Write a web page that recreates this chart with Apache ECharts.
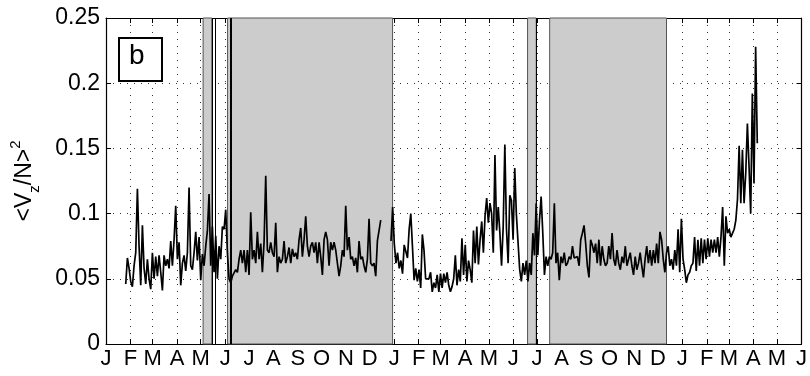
<!DOCTYPE html>
<html>
<head>
<meta charset="utf-8">
<script src="https://cdn.jsdelivr.net/npm/echarts@6/dist/echarts.min.js"></script>
<style>
  html, body { margin: 0; padding: 0; background: #fff; }
  #chart { width: 810px; height: 376px; }
</style>
</head>
<body>
<div id="chart"></div>
<script>
// Month initials used as x tick labels
const monthInitials = ['J', 'F', 'M', 'A', 'M', 'J', 'J', 'A', 'S', 'O', 'N', 'D'];
// y tick values
const yTickValues = [0, 0.05, 0.1, 0.15, 0.2, 0.25];

// Axis span
const axisStart = '2009-01-01';
const axisEnd = '2011-06-01';

// First record: evenly sampled between these dates
const seg1Start = '2009-01-26';
const seg1End = '2009-12-15';
const seg1Values = [
  0.046, 0.066, 0.058, 0.048, 0.044, 0.060, 0.070, 0.119, 0.075, 0.045,
  0.091, 0.058, 0.046, 0.065, 0.050, 0.042, 0.070, 0.050, 0.067, 0.052,
  0.068, 0.055, 0.041, 0.068, 0.060, 0.065, 0.058, 0.079, 0.060, 0.080,
  0.106, 0.065, 0.078, 0.045, 0.062, 0.068, 0.056, 0.070, 0.120, 0.060,
  0.057, 0.070, 0.086, 0.064, 0.082, 0.049, 0.069, 0.060, 0.075, 0.087,
  0.115, 0.060, 0.090, 0.055, 0.083, 0.050, 0.075, 0.065, 0.090, 0.088,
  0.103, 0.070, 0.050, 0.047,
  0.052, 0.053, 0.057, 0.055, 0.065, 0.072, 0.062, 0.072, 0.055, 0.072,
  0.053, 0.101, 0.065, 0.072, 0.062, 0.086, 0.065, 0.077, 0.055, 0.078,
  0.129, 0.072, 0.070, 0.078, 0.070, 0.067, 0.093, 0.055, 0.067, 0.062,
  0.065, 0.079, 0.062, 0.067, 0.074, 0.062, 0.073, 0.067, 0.070, 0.065,
  0.080, 0.089, 0.067, 0.080, 0.098, 0.075, 0.067, 0.075, 0.078, 0.070,
  0.078, 0.062, 0.078, 0.067, 0.053, 0.080, 0.086, 0.080, 0.060, 0.078,
  0.072, 0.078, 0.072, 0.062, 0.052, 0.060, 0.072, 0.067, 0.106, 0.072,
  0.082, 0.065, 0.067, 0.060, 0.066, 0.055, 0.079, 0.065, 0.067, 0.060,
  0.055, 0.065, 0.096, 0.062, 0.060, 0.062, 0.052, 0.079, 0.080, 0.095
];

// Second record
const seg2Start = '2009-12-28';
const seg2End = '2011-04-06';
const seg2Values = [
  0.079, 0.105, 0.077, 0.062, 0.070, 0.058, 0.064, 0.054, 0.076, 0.077,
  0.066, 0.088, 0.100, 0.075, 0.049, 0.058, 0.048, 0.057, 0.043, 0.084,
  0.072, 0.050, 0.049, 0.050, 0.055, 0.040, 0.047, 0.043, 0.053, 0.040,
  0.054, 0.043, 0.054, 0.047, 0.055, 0.045, 0.040, 0.044, 0.050, 0.068,
  0.045, 0.057, 0.048, 0.081, 0.053, 0.076, 0.048, 0.064, 0.057, 0.047,
  0.087, 0.062, 0.090, 0.061, 0.080, 0.094, 0.070, 0.098, 0.112, 0.093,
  0.108, 0.100, 0.070, 0.145, 0.087, 0.105, 0.085, 0.060, 0.090, 0.153,
  0.088, 0.062, 0.114, 0.110, 0.080, 0.135, 0.099, 0.098, 0.057, 0.048,
  0.062, 0.053, 0.064, 0.048, 0.062, 0.053, 0.085, 0.068, 0.108, 0.068,
  0.095,
  0.113, 0.085, 0.053, 0.067, 0.060, 0.067, 0.065, 0.070, 0.108, 0.062,
  0.070, 0.049, 0.067, 0.062, 0.070, 0.060, 0.062, 0.067, 0.065, 0.075,
  0.066, 0.065, 0.067, 0.060, 0.080, 0.085, 0.091, 0.077, 0.060, 0.051,
  0.080, 0.076, 0.070, 0.077, 0.062, 0.080, 0.060, 0.075, 0.065, 0.060,
  0.062, 0.075, 0.065, 0.085, 0.065, 0.060, 0.072, 0.062, 0.057, 0.067,
  0.062, 0.075, 0.060, 0.065, 0.070, 0.060, 0.053, 0.067, 0.057, 0.062,
  0.070, 0.060, 0.051, 0.065, 0.075, 0.062, 0.072, 0.060, 0.072, 0.062,
  0.077, 0.062, 0.086, 0.080, 0.065, 0.055, 0.070, 0.075, 0.060, 0.065,
  0.057, 0.072, 0.060, 0.088, 0.055, 0.096, 0.065, 0.057, 0.047, 0.053,
  0.055, 0.060, 0.062, 0.082, 0.056, 0.080, 0.060, 0.081, 0.062, 0.080,
  0.065, 0.081, 0.067, 0.080, 0.070, 0.080, 0.070, 0.082, 0.067, 0.082,
  0.105, 0.060, 0.098, 0.085, 0.088, 0.082, 0.085, 0.088, 0.095, 0.111,
  0.152, 0.108, 0.149, 0.108, 0.131, 0.169, 0.136, 0.100, 0.192, 0.123,
  0.228, 0.154
];

// Shaded periods [from, to]
const shadedPeriods = [
  ['2009-05-04', '2009-05-15'],
  ['2009-06-04', '2009-12-30'],
  ['2010-06-19', '2010-06-30'],
  ['2010-07-17', '2010-12-12']
];
// Single-day event markers
const eventDates = ['2009-05-15', '2009-05-20', '2009-06-07', '2009-06-09', '2010-06-30'];

function toTime(s) {
  const p = s.split('-').map(Number);
  return new Date(p[0], p[1] - 1, p[2]).getTime();
}
function spread(start, end, values) {
  const t0 = toTime(start), t1 = toTime(end);
  const n = values.length;
  return values.map((v, i) => [t0 + (t1 - t0) * i / (n - 1), v]);
}

const font = '"Liberation Sans", Arial, Helvetica, sans-serif';
const DAY = 86400000;

const chart = echarts.init(document.getElementById('chart'), null, { renderer: 'canvas' });

const xCommon = {
  type: 'time',
  min: toTime(axisStart),
  max: toTime(axisEnd),
  minInterval: 28 * DAY,
  maxInterval: 31 * DAY,
  splitNumber: 29,
  axisLine: { show: true, onZero: false, lineStyle: { color: '#000', width: 1.2 } },
  axisTick: { show: true, inside: true, length: 5, lineStyle: { color: '#000' } },
  minorTick: { show: false },
  splitArea: { show: false }
};

const option = {
  animation: false,
  backgroundColor: '#fff',
  grid: { left: 106, right: 7, top: 18, bottom: 32, containLabel: false },
  xAxis: [
    Object.assign({}, xCommon, {
      position: 'bottom',
      axisLabel: {
        show: true,
        margin: 4,
        color: '#000',
        fontFamily: font,
        fontSize: 22,
        hideOverlap: false,
        showMinLabel: true,
        showMaxLabel: true,
        formatter: (v) => monthInitials[new Date(v).getMonth()]
      },
      splitLine: { show: true, lineStyle: { color: '#333', width: 1, type: [1, 6] } }
    }),
    Object.assign({}, xCommon, {
      position: 'top',
      axisLabel: { show: false },
      splitLine: { show: false }
    })
  ],
  yAxis: [
    {
      type: 'value',
      min: 0,
      max: 0.25,
      interval: 0.05,
      position: 'left',
      axisLine: { show: true, lineStyle: { color: '#000', width: 1.2 } },
      axisTick: { show: true, inside: true, length: 5, lineStyle: { color: '#000' } },
      splitLine: { show: true, lineStyle: { color: '#333', width: 1, type: [1, 6] } },
      axisLabel: {
        color: '#000',
        fontFamily: font,
        fontSize: 23,
        margin: 6,
        formatter: (v) => {
          const hit = yTickValues.find(t => Math.abs(t - v) < 1e-9);
          return String(+(hit !== undefined ? hit : v).toFixed(2));
        }
      },
      name: '{a|<V}{sub|z}{a|/N>}{sup|2}',
      nameLocation: 'middle',
      nameRotate: 90,
      nameGap: 64,
      nameTextStyle: {
        color: '#000',
        fontFamily: font,
        rich: {
          a: { fontSize: 23, fontFamily: font, color: '#000', lineHeight: 34, verticalAlign: 'middle' },
          sub: { fontSize: 15, fontFamily: font, color: '#000', lineHeight: 15, verticalAlign: 'bottom' },
          sup: { fontSize: 15, fontFamily: font, color: '#000', lineHeight: 15, verticalAlign: 'top' }
        }
      }
    },
    {
      type: 'value',
      min: 0,
      max: 0.25,
      interval: 0.05,
      position: 'right',
      axisLine: { show: true, lineStyle: { color: '#000', width: 1.2 } },
      axisTick: { show: true, inside: true, length: 5, lineStyle: { color: '#000' } },
      splitLine: { show: false },
      axisLabel: { show: false }
    }
  ],
  series: [
    {
      name: 'periods',
      type: 'line',
      data: [],
      z: 1,
      silent: true,
      markArea: {
        silent: true,
        itemStyle: { color: '#cccccc', borderColor: '#555', borderWidth: 1 },
        data: shadedPeriods.map(p => [{ xAxis: toTime(p[0]) }, { xAxis: toTime(p[1]) }])
      },
      markLine: {
        silent: true,
        symbol: 'none',
        label: { show: false },
        lineStyle: { color: '#000', width: 1, type: 'solid' },
        data: eventDates.map(d => ({ xAxis: toTime(d) }))
      }
    },
    {
      name: 'record1',
      type: 'line',
      z: 3,
      showSymbol: false,
      symbol: 'none',
      lineStyle: { color: '#000', width: 1.7 },
      data: spread(seg1Start, seg1End, seg1Values)
    },
    {
      name: 'record2',
      type: 'line',
      z: 3,
      showSymbol: false,
      symbol: 'none',
      lineStyle: { color: '#000', width: 1.7 },
      data: spread(seg2Start, seg2End, seg2Values)
    }
  ],
  graphic: [
    {
      type: 'rect',
      left: 118,
      top: 37,
      z: 10,
      shape: { width: 43, height: 43 },
      style: { fill: '#fff', stroke: '#000', lineWidth: 2 }
    },
    {
      type: 'text',
      left: 129,
      top: 42,
      z: 11,
      style: { text: 'b', fill: '#000', font: '28px ' + font }
    }
  ]
};

chart.setOption(option);
</script>
</body>
</html>
